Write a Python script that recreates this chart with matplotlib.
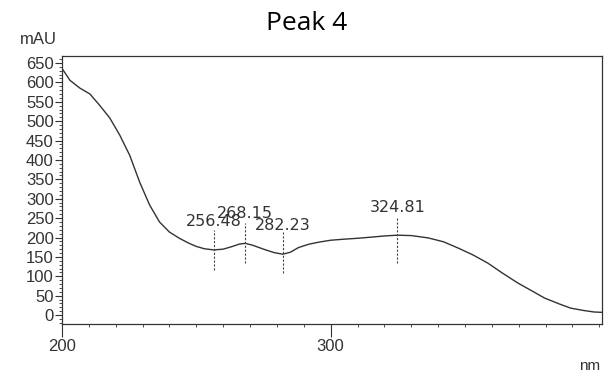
import numpy as np
import matplotlib.pyplot as plt
from matplotlib.ticker import MultipleLocator

# UV spectrum (nm, mAU)
wavelength = [200, 203, 206.7, 210.4, 214, 217.8, 221.5, 225.2, 228.9, 232.6, 236.3,
              240, 243.7, 247, 250, 253, 256.5, 260, 263, 266, 268.2, 271, 275, 279,
              282.2, 285, 288, 292, 295.6, 300, 305.6, 310, 315.2, 320, 324.8, 330,
              336.3, 342, 347.4, 353, 358.5, 364, 369.6, 375, 379.6, 385, 389.3, 394,
              398, 401]
absorbance = [636, 605, 585, 570, 541, 508, 464, 412, 343, 284, 240,
              214, 198, 186, 177, 171, 168, 170, 176, 183, 185, 180, 170, 161,
              157, 162, 174, 183, 188, 193, 196, 198, 201, 204, 206, 205,
              199, 189, 173, 155, 134, 108, 83, 62, 44, 29, 18, 12,
              8, 7]

peak_nm = [256.48, 268.15, 282.23, 324.81]
peak_labels = ["256.48", "268.15", "282.23", "324.81"]
marker_top = [220, 238, 214, 252]
marker_bottom = [116, 133, 108, 133]
label_y = [240, 262, 232, 278]

fig = plt.figure(figsize=(6.11, 3.83), dpi=100)
ax = fig.add_axes([62 / 611, 59 / 383, 540 / 611, 268 / 383])

ax.plot(wavelength, absorbance, color="#333333", linewidth=1.0)

for x, lab, top, bot, ly in zip(peak_nm, peak_labels, marker_top, marker_bottom, label_y):
    ax.plot([x, x], [bot, top], color="#444444", linewidth=0.8, linestyle=(0, (2, 1.5)))
    ax.text(x, ly, lab, ha="center", va="center", fontsize=11.5,
            family="DejaVu Sans", color="#333333")

ax.set_xlim(200, 401)
ax.set_ylim(-23, 668)
ax.xaxis.set_minor_locator(MultipleLocator(10))
ax.yaxis.set_minor_locator(MultipleLocator(10))
ax.set_yticks(np.arange(0, 651, 50))
ax.set_xticks([200, 300])

ax.tick_params(axis="both", which="major", direction="out", length=5, width=0.8,
               labelsize=12, colors="#333333", pad=1)
ax.tick_params(axis="both", which="minor", direction="out", length=2.5, width=0.6,
               colors="#333333")
ax.tick_params(axis="x", which="major", length=9, pad=2)
for lab in ax.get_xticklabels() + ax.get_yticklabels():
    lab.set_family("Liberation Sans")
for s in ax.spines.values():
    s.set_color("#333333")
    s.set_linewidth(0.9)

fig.text(20 / 611, 1 - 40 / 383, "mAU", fontsize=12, family="Liberation Sans",
         color="#333333", ha="left", va="center")
fig.text(600 / 611, 1 - 366 / 383, "nm", fontsize=11, family="Liberation Sans",
         color="#333333", ha="right", va="center")
fig.text(307 / 611, 1 - 23 / 383, "Peak 4", fontsize=19, family="Open Sans",
         color="black", ha="center", va="center")

plt.savefig("out.png", dpi=100)
plt.close()
